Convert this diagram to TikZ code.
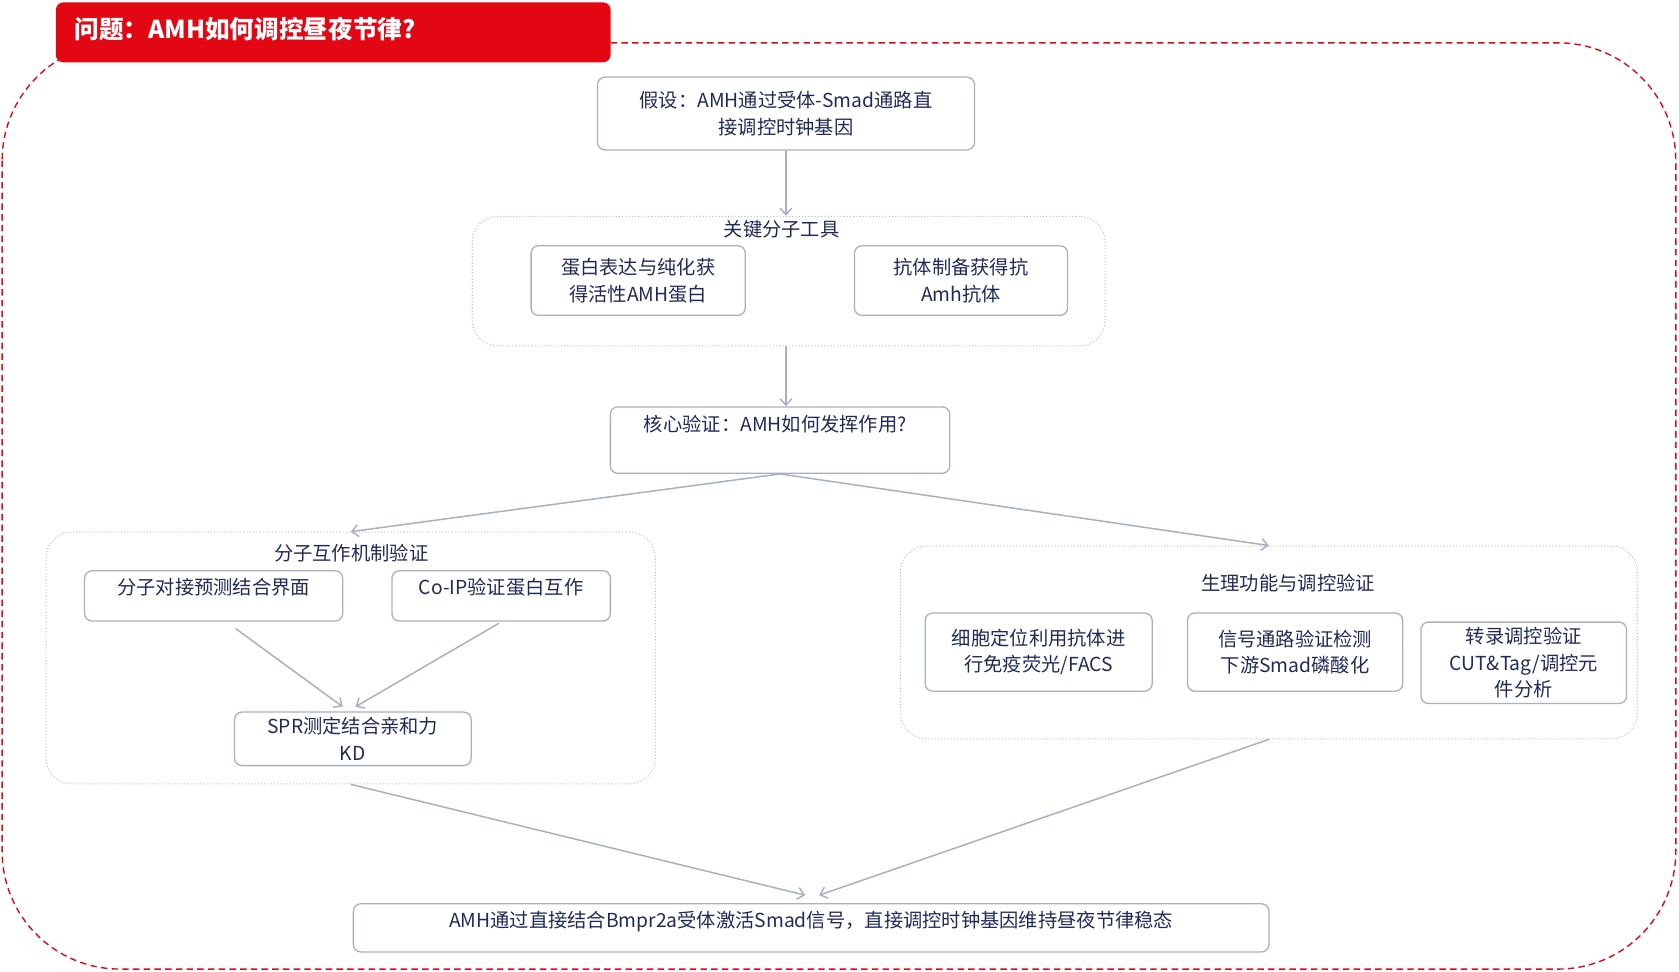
\documentclass[tikz,border=0pt]{standalone}
\usepackage{fontspec}
\setmainfont{Noto Sans CJK SC}
\usetikzlibrary{arrows.meta}
\definecolor{txtc}{HTML}{1F2A5A}
\definecolor{linec}{HTML}{A9AFC4}
\definecolor{redc}{HTML}{E30613}
\tikzset{
  box/.style={draw=linec, line width=1.2pt, rounded corners=7pt, text=txtc, font=\fontsize{18}{25}\selectfont, align=center, inner sep=0pt},
  grp/.style={draw=linec!80, dotted, line width=1pt, rounded corners=24pt},
  lbl/.style={text=txtc, font=\fontsize{18}{25}\selectfont, align=center},
  arr/.style={draw=linec, line width=1.4pt, -{Straight Barb[length=6pt,width=11pt]}}
}
\begin{document}
\begin{tikzpicture}[x=1pt,y=-1pt]
\useasboundingbox (0,0) rectangle (1568,907);
% outer frame
\draw[redc, dash pattern=on 6pt off 4pt, line width=1.3pt, rounded corners=110pt] (2,40) rectangle (1565,905);
% title banner
\node[fill=redc, rounded corners=7pt, minimum width=518pt, minimum height=56pt, anchor=north west, inner sep=0pt] (title) at (52,2) {};
\node[anchor=west, text=white, font=\fontsize{23}{26}\selectfont\bfseries] (ttext) at (66,27) {问题：AMH如何调控昼夜节律?};

\node[box, minimum width=352pt, minimum height=68pt] (hyp) at (734,106) {假设：AMH通过受体-Smad通路直\\接调控时钟基因};

\node[grp, minimum width=591pt, minimum height=121pt, inner sep=0pt] (tools) at (736.5,262.5) {};
\node[lbl] (toolslbl) at (730,214) {关键分子工具};
\node[box, minimum width=200pt, minimum height=65pt] (prot) at (596,262) {蛋白表达与纯化获\\得活性AMH蛋白};
\node[box, minimum width=199pt, minimum height=65pt] (anti) at (897.5,262) {抗体制备获得抗\\Amh抗体};

\node[box, minimum width=317pt, minimum height=62pt] (core) at (728.5,411) {};
\node[lbl] (coretxt) at (724,396) {核心验证：AMH如何发挥作用?};

\node[grp, minimum width=569pt, minimum height=235pt, inner sep=0pt] (mol) at (327.5,614.5) {};
\node[lbl] (mollbl) at (328,517) {分子互作机制验证};
\node[box, minimum width=241pt, minimum height=47pt] (dock) at (199.5,556.5) {};
\node[lbl] (docktxt) at (199.5,548) {分子对接预测结合界面};
\node[box, minimum width=204pt, minimum height=47pt] (coip) at (468,556.5) {};
\node[lbl] (coiptxt) at (468,548) {Co-IP验证蛋白互作};
\node[box, minimum width=221pt, minimum height=50pt] (spr) at (329.5,690) {SPR测定结合亲和力\\KD};

\node[grp, minimum width=688pt, minimum height=180pt, inner sep=0pt] (phys) at (1185,600) {};
\node[lbl] (physlbl) at (1203,545) {生理功能与调控验证};
\node[box, minimum width=212pt, minimum height=73pt] (loc) at (970,609) {细胞定位利用抗体进\\行免疫荧光/FACS};
\node[box, minimum width=201pt, minimum height=73pt] (sig) at (1209.5,609) {信号通路验证检测\\下游Smad磷酸化};
\node[box, minimum width=192pt, minimum height=76pt] (cut) at (1423,619) {转录调控验证\\CUT\&Tag/调控元\\件分析};

\node[box, minimum width=855pt, minimum height=45pt] (final) at (757.5,866.5) {};
\node[lbl] (finaltxt) at (757.5,861) {AMH通过直接结合Bmpr2a受体激活Smad信号，直接调控时钟基因维持昼夜节律稳态};

% connectors
\draw[arr] (hyp.south) -- (hyp.south |- tools.north);
\draw[arr] (hyp.south |- tools.south) -- (hyp.south |- core.north);
\draw[arr] (core.south) -- (mol.north);
\draw[arr] (core.south) -- (phys.north);
\draw[arr] (220,587) -- (320,660);
\draw[arr] (466,582) -- (332,660);
\draw[arr] (mol.south) -- (752,836);
\draw[arr] (phys.south) -- (765,836);
\end{tikzpicture}
\end{document}
